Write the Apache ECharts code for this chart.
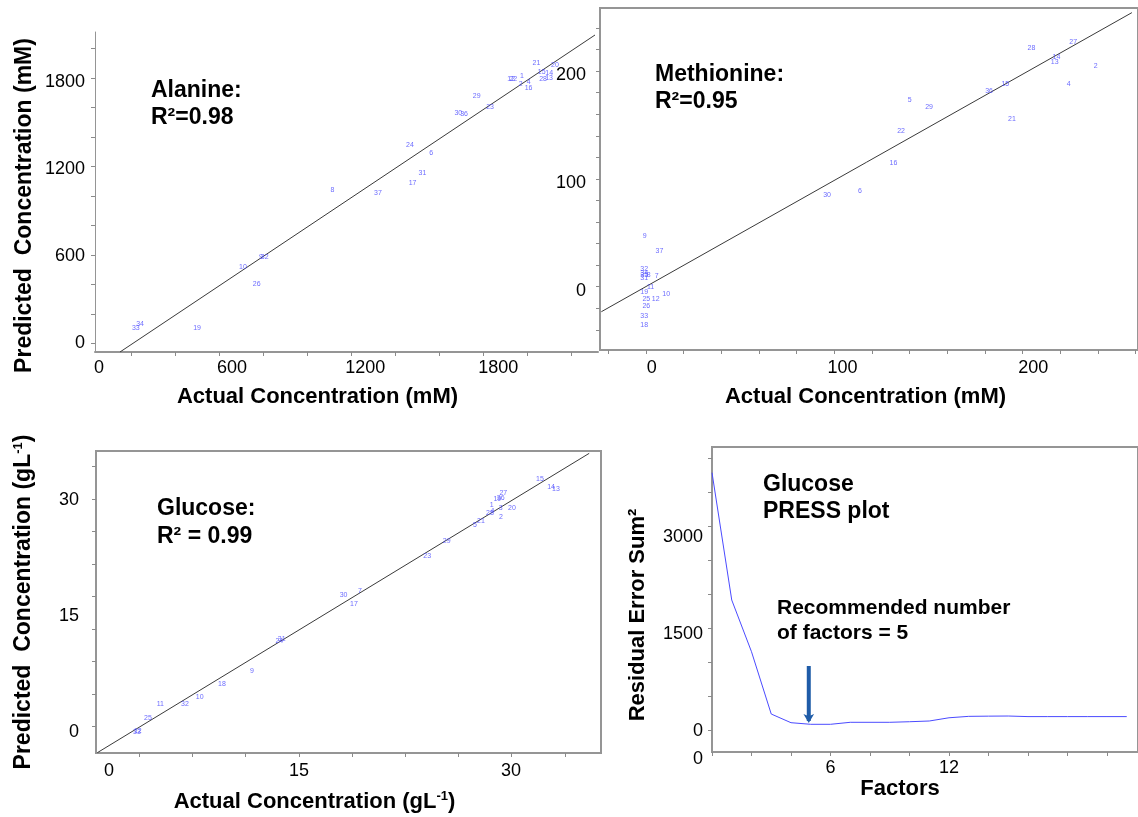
<!DOCTYPE html>
<html><head><meta charset="utf-8">
<script src="https://cdn.jsdelivr.net/npm/echarts@6/dist/echarts.min.js"></script>
<style>html,body{margin:0;padding:0;background:#fff}#c{width:1138px;height:817px}</style>
</head><body><div id="c"></div>
<script>
// ---------- Alanine (mM) ----------
const alaIds       = ['21','20','15','14','28','13','1','12','22','2','4','16','29','23','30','36','24','6','31','17','8','37','9','32','10','26','33','34','19'];
const alaActual    = [1972,2056,1996,2030,2002,2029,1907,1858,1868,1901,1937,1937,1703,1763,1620,1646,1402,1498,1458,1414,1052,1258,730,747,649,711,166,185,442];
const alaPredicted = [1931,1915,1865,1862,1819,1828,1839,1821,1821,1784,1796,1757,1704,1624,1583,1578,1365,1312,1174,1105,1057,1034,592,592,525,406,107,133,107];
const alaFitX = [94.7, 2236.3];
const alaFitY = [-59.9, 2121.4];
const alaTickLabels = [0, 600, 1200, 1800];

// ---------- Methionine (mM) ----------
const metIds       = ['28','27','14','13','2','4','36','15','5','29','21','22','16','30','6','9','37','32','34','35','31','8','7','11','19','10','25','12','26','33','18'];
const metActual    = [199.1,221.0,212.2,211.3,232.8,218.6,176.9,185.4,135.2,145.4,188.9,130.7,126.7,91.9,109.2,-3.7,4.0,-4.0,-4.0,-4.0,-4.0,-1.6,2.6,-0.7,-4.0,7.5,-2.9,2.0,-2.9,-4.0,-4.0];
const metPredicted = [224.9,231.0,216.5,211.9,208.7,191.5,185.3,191.5,176.9,170.7,159.6,148.4,118.7,89.1,92.8,50.7,37.1,19.9,16.7,14.3,11.5,14.3,13.6,3.2,-1.5,-3.3,-8.0,-8.0,-14.2,-23.5,-31.8];
const metFitX = [-26.5, 251.8];
const metFitY = [-19.5, 257.9];
const metTickLabels = [0, 100, 200];

// ---------- Glucose (gL-1) ----------
const gluIds       = ['15','14','13','27','19','36','1','3','20','28','4','2','21','5','29','23','7','30','17','24','31','9','18','10','32','11','25','33','12'];
const gluActual    = [32.16,32.99,33.36,29.43,28.98,29.23,28.56,29.23,30.07,28.43,28.61,29.25,27.76,27.31,25.2,23.75,18.73,17.51,18.28,12.71,12.89,10.67,8.43,6.77,5.67,3.83,2.91,2.09,2.15];
const gluPredicted = [32.68,31.72,31.39,30.87,30.13,30.22,29.31,29.0,29.0,28.28,28.54,27.76,27.24,26.73,24.73,22.75,18.22,17.66,16.53,11.71,11.96,7.90,6.22,4.53,3.63,3.55,1.81,0.0,0.05];
const gluFitX = [-0.87, 35.84];
const gluFitY = [-2.72, 36.05];
const gluTickLabels = [0, 15, 30];

// ---------- Glucose PRESS plot ----------
const pressFactors = [0,1,2,3,4,5,6,7,8,9,10,11,12,13,14,15,16,17,18,19,20,21];
const pressResidual = [3988,2020,1221,258,124,99,99,130,130,130,139,150,200,222,225,227,218,218,218,218,218,218];
const pressYLabels = [0, 1500, 3000];
const pressXLabels = [6, 12];
const arrowX = [4.9, 4.9];
const arrowY = [1000, 150];

// ---------- helpers ----------
const FONT = '"Liberation Sans", Arial, sans-serif';
function seq(start, step, end) { const r = []; for (let v = start; v <= end + 1e-9; v += step) r.push(+v.toFixed(3)); return r; }
function zip(xs, ys, ids) { return xs.map((x, i) => ids ? [x, ys[i], ids[i]] : [x, ys[i]]); }

const tickLbl = { fontFamily: FONT, fontSize: 18, color: '#000', formatter: v => String(v) };
const titleStyle = { fontFamily: FONT, fontSize: 22, fontWeight: 'bold', color: '#000' };
const grayAxis = (w) => ({ show: true, onZero: false, lineStyle: { color: '#959595', width: w } });
const ticks = (vals) => ({ show: true, length: 4, lineStyle: { color: '#8a8a8a', width: 1 }, customValues: vals });

function idSeries(xi, yi, xs, ys, ids) {
  return {
    type: 'scatter', xAxisIndex: xi, yAxisIndex: yi, data: zip(xs, ys, ids),
    symbolSize: 1, itemStyle: { color: 'rgba(0,0,0,0)' }, silent: true, z: 5,
    label: { show: true, position: 'inside', formatter: p => p.data[2], color: '#4646ff', fontSize: 7, fontFamily: FONT }
  };
}
function fitSeries(xi, yi, xs, ys) {
  return { type: 'line', xAxisIndex: xi, yAxisIndex: yi, data: zip(xs, ys), symbol: 'none', silent: true,
           lineStyle: { color: '#3a3a3a', width: 1 }, z: 4 };
}

const option = {
  animation: false,
  backgroundColor: '#fff',
  grid: [
    { left: 95,  top: 32,  width: 503, height: 320 },
    { left: 600, top: 8,   width: 539, height: 342, show: true, borderColor: '#959595', borderWidth: 2 },
    { left: 96,  top: 451, width: 505, height: 302, show: true, borderColor: '#959595', borderWidth: 2 },
    { left: 712, top: 447, width: 427, height: 305, show: true, borderColor: '#959595', borderWidth: 2 }
  ],
  xAxis: [
    { type: 'value', gridIndex: 0, min: -18, max: 2249.8, axisLine: grayAxis(2), splitLine: { show: false },
      axisTick: ticks(seq(147, 198.4, 2200)),
      axisLabel: Object.assign({}, tickLbl, { margin: 7, customValues: alaTickLabels }),
      name: 'Actual Concentration (mM)', nameLocation: 'middle', nameGap: 34,
      nameTextStyle: Object.assign({ padding: [0, 58, 0, 0] }, titleStyle) },
    { type: 'value', gridIndex: 1, min: -27.2, max: 255, axisLine: grayAxis(2), splitLine: { show: false },
      axisTick: ticks(seq(-22.8, 19.75, 254)),
      axisLabel: Object.assign({}, tickLbl, { margin: 9, customValues: metTickLabels }),
      name: 'Actual Concentration (mM)', nameLocation: 'middle', nameGap: 36,
      nameTextStyle: Object.assign({ padding: [0, 7, 0, 0] }, titleStyle) },
    { type: 'value', gridIndex: 2, min: -0.97, max: 36.72, axisLine: grayAxis(2), splitLine: { show: false },
      axisTick: ticks(seq(2.26, 3.97, 36)),
      axisLabel: Object.assign({}, tickLbl, { margin: 9, customValues: gluTickLabels,
        formatter: v => v === 15 ? '{s|15}' : String(v),
        rich: { s: { fontFamily: FONT, fontSize: 18, color: '#000', padding: [0, 22, 0, 0] } } }),
      name: '{a|Actual Concentration (gL}{s|-1}{a|)}', nameLocation: 'middle', nameGap: 37,
      nameTextStyle: Object.assign({ padding: [0, 68, 0, 0],
        rich: { a: { fontFamily: FONT, fontSize: 22, fontWeight: 'bold', color: '#000' },
                s: { fontFamily: FONT, fontSize: 13, fontWeight: 'bold', color: '#000', verticalAlign: 'top', padding: [0, 0, 10, 0] } } }, titleStyle) },
    { type: 'value', gridIndex: 3, min: 0, max: 21.57, axisLine: grayAxis(2), splitLine: { show: false },
      axisTick: ticks(seq(0, 2, 21)),
      axisLabel: Object.assign({}, tickLbl, { margin: 7, customValues: pressXLabels }),
      name: 'Factors', nameLocation: 'middle', nameGap: 22,
      nameTextStyle: Object.assign({ padding: [0, 50, 0, 0] }, titleStyle) }
  ],
  yAxis: [
    { type: 'value', gridIndex: 0, min: -59.9, max: 2142, axisLine: grayAxis(1), splitLine: { show: false },
      axisTick: ticks(seq(0, 203, 2142)),
      axisLabel: Object.assign({}, tickLbl, { margin: 10, customValues: alaTickLabels }),
      name: 'Predicted  Concentration (mM)', nameLocation: 'middle', nameGap: 59,
      nameTextStyle: Object.assign({}, titleStyle, { fontSize: 23, padding: [0, 27, 0, 0] }) },
    { type: 'value', gridIndex: 1, min: -55, max: 262.2, axisLine: grayAxis(2), splitLine: { show: false },
      axisTick: ticks(seq(-36.3, 20, 262)),
      axisLabel: Object.assign({}, tickLbl, { margin: 14, customValues: metTickLabels }) },
    { type: 'value', gridIndex: 2, min: -2.76, max: 36.35, axisLine: grayAxis(2), splitLine: { show: false },
      axisTick: ticks(seq(0.65, 4.21, 36.3)),
      axisLabel: Object.assign({}, tickLbl, { margin: 17, customValues: gluTickLabels }),
      name: '{a|Predicted  Concentration (gL}{s|-1}{a|)}', nameLocation: 'middle', nameGap: 61,
      nameTextStyle: Object.assign({}, titleStyle, { padding: [0, 0, 0, 0],
        rich: { a: { fontFamily: FONT, fontSize: 23, fontWeight: 'bold', color: '#000' },
                s: { fontFamily: FONT, fontSize: 13, fontWeight: 'bold', color: '#000', verticalAlign: 'top', padding: [0, 0, 10, 0] } } }) },
    { type: 'value', gridIndex: 3, min: -329, max: 4385, axisLine: grayAxis(2), splitLine: { show: false },
      axisTick: ticks(seq(0, 526.5, 4385)),
      axisLabel: Object.assign({}, tickLbl, { margin: 9, customValues: pressYLabels }),
      name: 'Residual Error Sum²', nameLocation: 'middle', nameGap: 63,
      nameTextStyle: Object.assign({ padding: [0, 31, 0, 0] }, titleStyle) }
  ],
  series: [
    fitSeries(0, 0, alaFitX, alaFitY),
    idSeries(0, 0, alaActual, alaPredicted, alaIds),
    fitSeries(1, 1, metFitX, metFitY),
    idSeries(1, 1, metActual, metPredicted, metIds),
    fitSeries(2, 2, gluFitX, gluFitY),
    idSeries(2, 2, gluActual, gluPredicted, gluIds),
    { type: 'line', xAxisIndex: 3, yAxisIndex: 3, data: zip(pressFactors, pressResidual), symbol: 'none', silent: true,
      lineStyle: { color: '#4b4bff', width: 1 } },
    { type: 'line', xAxisIndex: 3, yAxisIndex: 3, silent: true, z: 6, showSymbol: true,
      data: [
        { value: [arrowX[0], arrowY[0]], symbol: 'none' },
        { value: [arrowX[1], arrowY[1]], symbol: 'arrow', symbolSize: [8, 9], symbolRotate: 180, symbolOffset: [0, 2] }
      ],
      lineStyle: { color: '#1f5ca8', width: 4 }, itemStyle: { color: '#1f5ca8', borderWidth: 0 } }
  ],
  graphic: [
    { type: 'text', x: 151, y: 91,  style: { text: 'Alanine:', font: 'bold 23px ' + FONT, fill: '#000', verticalAlign: 'middle' } },
    { type: 'text', x: 151, y: 118, style: { text: 'R²=0.98', font: 'bold 23px ' + FONT, fill: '#000', verticalAlign: 'middle' } },
    { type: 'text', x: 655, y: 75,  style: { text: 'Methionine:', font: 'bold 23px ' + FONT, fill: '#000', verticalAlign: 'middle' } },
    { type: 'text', x: 655, y: 102, style: { text: 'R²=0.95', font: 'bold 23px ' + FONT, fill: '#000', verticalAlign: 'middle' } },
    { type: 'text', x: 157, y: 509, style: { text: 'Glucose:', font: 'bold 23px ' + FONT, fill: '#000', verticalAlign: 'middle' } },
    { type: 'text', x: 157, y: 537, style: { text: 'R² = 0.99', font: 'bold 23px ' + FONT, fill: '#000', verticalAlign: 'middle' } },
    { type: 'text', x: 763, y: 485, style: { text: 'Glucose', font: 'bold 23px ' + FONT, fill: '#000', verticalAlign: 'middle' } },
    { type: 'text', x: 763, y: 512, style: { text: 'PRESS plot', font: 'bold 23px ' + FONT, fill: '#000', verticalAlign: 'middle' } },
    { type: 'text', x: 777, y: 608, style: { text: 'Recommended number', font: 'bold 21px ' + FONT, fill: '#000', verticalAlign: 'middle' } },
    { type: 'text', x: 777, y: 633, style: { text: 'of factors = 5', font: 'bold 21px ' + FONT, fill: '#000', verticalAlign: 'middle' } },
    { type: 'text', x: 698, y: 759, style: { text: '0', font: '18px ' + FONT, fill: '#000', align: 'center', verticalAlign: 'middle' } }
  ]
};
const chart = echarts.init(document.getElementById('c'), null, { renderer: 'canvas' });
chart.setOption(option);
</script></body></html>
